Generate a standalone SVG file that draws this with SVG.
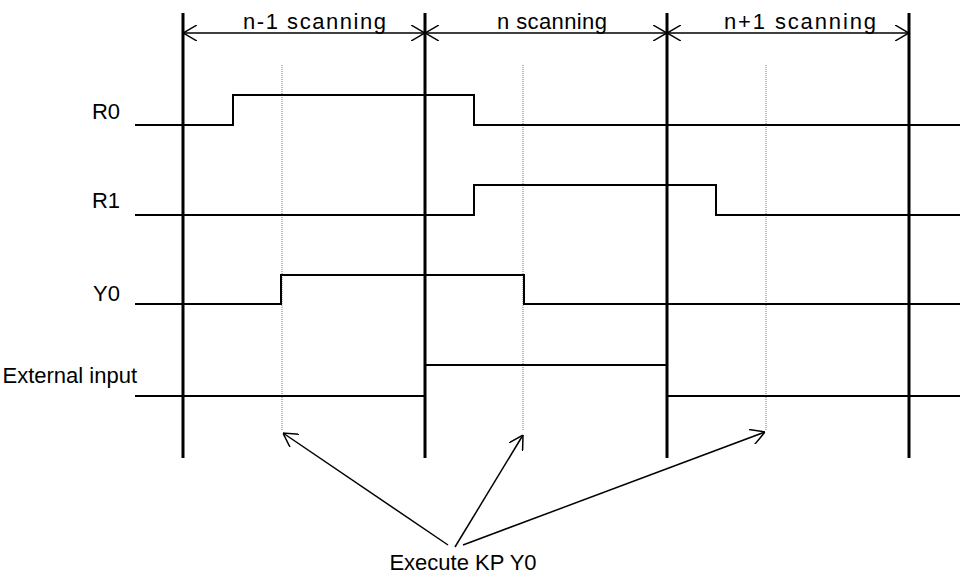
<svg xmlns="http://www.w3.org/2000/svg" width="960" height="577" viewBox="0 0 960 577">
<style>
  .bar { stroke:#000; stroke-width:3; fill:none; }
  .sig { stroke:#000; stroke-width:2; fill:none; }
  .dot { stroke:#777; stroke-width:1; stroke-dasharray:1,1; fill:none; }
  .dim { stroke:#000; stroke-width:1.5; fill:none; marker-start:url(#oa); marker-end:url(#oa); }
  .ptr { stroke:#000; stroke-width:1.5; fill:none; marker-end:url(#oa); }
  text { font-family:"Liberation Sans", Arial, sans-serif; font-size:22px; fill:#000; }
  .lbl { text-anchor:end; }
</style>
<defs>
  <marker id="oa" viewBox="0 0 14 16" refX="14" refY="8" markerWidth="14" markerHeight="16" markerUnits="userSpaceOnUse" orient="auto-start-reverse">
    <path d="M0,0 L14,8 L0,16" fill="none" stroke="#000" stroke-width="1.5"/>
  </marker>
</defs>

<g id="scan-boundaries">
  <line class="bar" x1="183" y1="13" x2="183" y2="458"/>
  <line class="bar" x1="425" y1="13" x2="425" y2="458"/>
  <line class="bar" x1="667" y1="13" x2="667" y2="458"/>
  <line class="bar" x1="909" y1="13" x2="909" y2="458"/>
</g>

<g id="execution-markers">
  <line class="dot" x1="282" y1="65" x2="282" y2="430"/>
  <line class="dot" x1="523" y1="65" x2="523" y2="430"/>
  <line class="dot" x1="766" y1="65" x2="766" y2="430"/>
</g>

<g id="scan-labels">
  <text x="243" y="29" textLength="143" lengthAdjust="spacing">n-1 scanning</text>
  <text x="497" y="29" textLength="110" lengthAdjust="spacing">n scanning</text>
  <text x="724" y="29" textLength="152" lengthAdjust="spacing">n+1 scanning</text>
</g>

<g id="signal-R0">
  <text class="lbl" x="120" y="119">R0</text>
  <polyline class="sig" points="135,125 233,125 233,95 474,95 474,125 960,125"/>
</g>
<g id="signal-R1">
  <text class="lbl" x="120" y="208">R1</text>
  <polyline class="sig" points="135,215 474,215 474,185 716,185 716,215 960,215"/>
</g>
<g id="signal-Y0">
  <text class="lbl" x="120" y="301">Y0</text>
  <polyline class="sig" points="135,304 281,304 281,275 524,275 524,304 960,304"/>
</g>
<g id="signal-external">
  <text class="lbl" x="137" y="383">External input</text>
  <polyline class="sig" points="135,396 425,396 425,365 667,365 667,396 960,396"/>
</g>

<g id="note-execute">
  <text x="463" y="570" text-anchor="middle">Execute KP Y0</text>
</g>

<g id="connectors">
  <line class="dim" x1="183" y1="33" x2="425" y2="33"/>
  <line class="dim" x1="425" y1="33" x2="667" y2="33"/>
  <line class="dim" x1="667" y1="33" x2="909" y2="33"/>
  <line class="ptr" x1="448" y1="545" x2="283" y2="433"/>
  <line class="ptr" x1="455" y1="547" x2="523" y2="435"/>
  <line class="ptr" x1="463" y1="545" x2="765" y2="432"/>
</g>
</svg>
